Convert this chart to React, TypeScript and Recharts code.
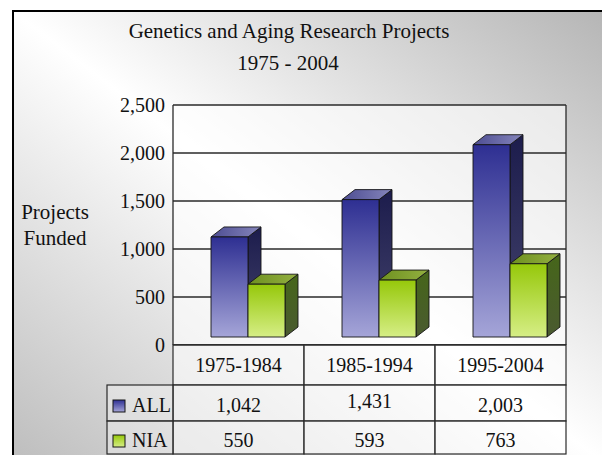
import React from 'react';
import { BarChart, Bar, XAxis, YAxis, CartesianGrid } from 'recharts';

const periods = ['1975-1984', '1985-1994', '1995-2004'];
const allProjects = [1042, 1431, 2003];
const niaProjects = [550, 593, 763];
const yTicks = [0, 500, 1000, 1500, 2000, 2500];
const seriesNames = ['ALL', 'NIA'];

const data = periods.map((p, i) => ({ period: p, all: allProjects[i], nia: niaProjects[i] }));

const FONT = '"Liberation Serif", "Times New Roman", serif';
const fmt = (v: number) => v.toLocaleString('en-US');

// 3D look of the original: front face lifted a bit, depth to the upper right
const DX = 13;
const DY = 10;
const LIFT = 8;
const SHIFT = 9;

const palette: Record<string, { front: string; top: string; side: string }> = {
  all: { front: 'url(#allFront)', top: 'url(#allTop)', side: 'url(#allSide)' },
  nia: { front: 'url(#niaFront)', top: 'url(#niaTop)', side: 'url(#niaSide)' },
};

const Bar3D = (props: any) => {
  const { x, y, width, height, dataKey } = props;
  if (width == null || height == null) return null;
  const c = palette[dataKey] || palette.all;
  const fx = x + SHIFT;
  const fy = y - LIFT;
  const bottom = y + height - LIFT;
  const s = { stroke: '#151515', strokeWidth: 0.9, strokeLinejoin: 'round' as const };
  return (
    <g>
      <polygon
        points={`${fx + width},${fy} ${fx + width + DX},${fy - DY} ${fx + width + DX},${bottom - DY} ${fx + width},${bottom}`}
        fill={c.side}
        {...s}
      />
      <polygon
        points={`${fx},${fy} ${fx + DX},${fy - DY} ${fx + width + DX},${fy - DY} ${fx + width},${fy}`}
        fill={c.top}
        {...s}
      />
      <rect x={fx} y={fy} width={width} height={bottom - fy} fill={c.front} {...s} />
    </g>
  );
};

const LINE = '#2a2a2a';
const CELL = 'rgba(255,255,255,0.55)';

const TableColumn = (props: any) => {
  const { x, y, payload } = props;
  const i = payload.index;
  const half = payload.offset || 65.5;
  const left = x - half;
  const w = half * 2;
  const r1 = y + 40;
  const r2 = y + 76;
  const r3 = y + 109;
  const legendW = 66;
  return (
    <g fontFamily={FONT} fontSize={20} fill="#111">
      <rect x={left} y={y} width={w} height={40} fill={CELL} stroke={LINE} strokeWidth={1.2} />
      <rect x={left} y={r1} width={w} height={36} fill={CELL} stroke={LINE} strokeWidth={1.2} />
      <rect x={left} y={r2} width={w} height={r3 - r2} fill={CELL} stroke={LINE} strokeWidth={1.2} />
      <text x={x} y={y + 27} textAnchor="middle">{periods[i]}</text>
      <text x={x} y={r1 + (i === 1 ? 23 : 27)} textAnchor="middle">{fmt(allProjects[i])}</text>
      <text x={x} y={r2 + 26} textAnchor="middle">{fmt(niaProjects[i])}</text>
      {i === 0 && (
        <g>
          <rect x={left - legendW} y={r1} width={legendW} height={36} fill="rgba(255,255,255,0.3)" stroke={LINE} strokeWidth={1.2} />
          <rect x={left - legendW} y={r2} width={legendW} height={r3 - r2} fill="rgba(255,255,255,0.3)" stroke={LINE} strokeWidth={1.2} />
          <rect x={left - legendW + 6} y={r1 + 15} width={12} height={12} fill="url(#allFront)" stroke="#151515" strokeWidth={1} />
          <rect x={left - legendW + 6} y={r2 + 14} width={12} height={12} fill="url(#niaFront)" stroke="#151515" strokeWidth={1} />
          <text x={left - legendW + 25} y={r1 + 27}>{seriesNames[0]}</text>
          <text x={left - legendW + 25} y={r2 + 26}>{seriesNames[1]}</text>
        </g>
      )}
    </g>
  );
};

export default function App() {
  return (
    <div style={{ position: 'absolute', left: 0, top: 0, width: 602, height: 455, background: '#fff', overflow: 'hidden' }}>
      <div
        style={{
          position: 'absolute',
          left: 12,
          top: 10,
          width: 602,
          height: 460,
          borderLeft: '2px solid #000',
          borderTop: '2px solid #000',
          background: 'linear-gradient(to top right, #bcbcbc 0%, #ffffff 50%, #b4b4b4 100%)',
        }}
      />
      <svg width={602} height={455} style={{ position: 'absolute', left: 0, top: 0 }}>
        <g fontFamily={FONT} fontSize={21} fill="#111" textAnchor="middle">
          <text x={289} y={38}>Genetics and Aging Research Projects</text>
          <text x={288} y={70}>1975 - 2004</text>
          <text x={55} y={219}>Projects</text>
          <text x={55} y={245}>Funded</text>
        </g>
      </svg>
      <div style={{ position: 'absolute', left: 0, top: 0 }}>
        <BarChart
          width={602}
          height={455}
          data={data}
          margin={{ top: 105, right: 0, bottom: 0, left: 0 }}
          barSize={37}
          barGap={0}
        >
          <defs>
            <linearGradient id="allFront" x1="0" y1="0" x2="0" y2="1">
              <stop offset="0%" stopColor="#2e2f92" />
              <stop offset="100%" stopColor="#a5a5d8" />
            </linearGradient>
            <linearGradient id="allTop" x1="0" y1="0" x2="1" y2="0">
              <stop offset="0%" stopColor="#4d4d92" />
              <stop offset="100%" stopColor="#8585bb" />
            </linearGradient>
            <linearGradient id="allSide" x1="0" y1="0" x2="0" y2="1">
              <stop offset="0%" stopColor="#1c1c4c" />
              <stop offset="100%" stopColor="#45456e" />
            </linearGradient>
            <linearGradient id="niaFront" x1="0" y1="0" x2="0" y2="1">
              <stop offset="0%" stopColor="#96c80a" />
              <stop offset="100%" stopColor="#d6ee86" />
            </linearGradient>
            <linearGradient id="niaTop" x1="0" y1="0" x2="1" y2="0">
              <stop offset="0%" stopColor="#6e9020" />
              <stop offset="100%" stopColor="#93b040" />
            </linearGradient>
            <linearGradient id="niaSide" x1="0" y1="0" x2="0" y2="1">
              <stop offset="0%" stopColor="#46661a" />
              <stop offset="100%" stopColor="#4a5a30" />
            </linearGradient>
          </defs>
          <CartesianGrid
            yAxisId="left"
            vertical={false}
            stroke={LINE}
            strokeWidth={1.3}
            fill="rgba(255,255,255,0.6)"
            fillOpacity={1}
          />
          <XAxis
            dataKey="period"
            height={110}
            tickLine={false}
            tickSize={0}
            tickMargin={0}
            axisLine={{ stroke: LINE, strokeWidth: 1.3 }}
            tick={<TableColumn />}
            interval={0}
          />
          <YAxis
            yAxisId="left"
            width={173}
            domain={[0, 2500]}
            ticks={yTicks}
            tickFormatter={fmt}
            tickLine={false}
            tickSize={0}
            tickMargin={8}
            axisLine={{ stroke: LINE, strokeWidth: 1.3 }}
            tick={{ fill: '#111', fontSize: 20, fontFamily: FONT }}
          />
          <YAxis
            yAxisId="right"
            orientation="right"
            width={36}
            domain={[0, 2500]}
            tick={false}
            tickLine={false}
            axisLine={{ stroke: LINE, strokeWidth: 1.3 }}
          />
          <Bar yAxisId="left" dataKey="all" name="ALL" shape={<Bar3D />} isAnimationActive={false} />
          <Bar yAxisId="left" dataKey="nia" name="NIA" shape={<Bar3D />} isAnimationActive={false} />
        </BarChart>
      </div>
    </div>
  );
}
